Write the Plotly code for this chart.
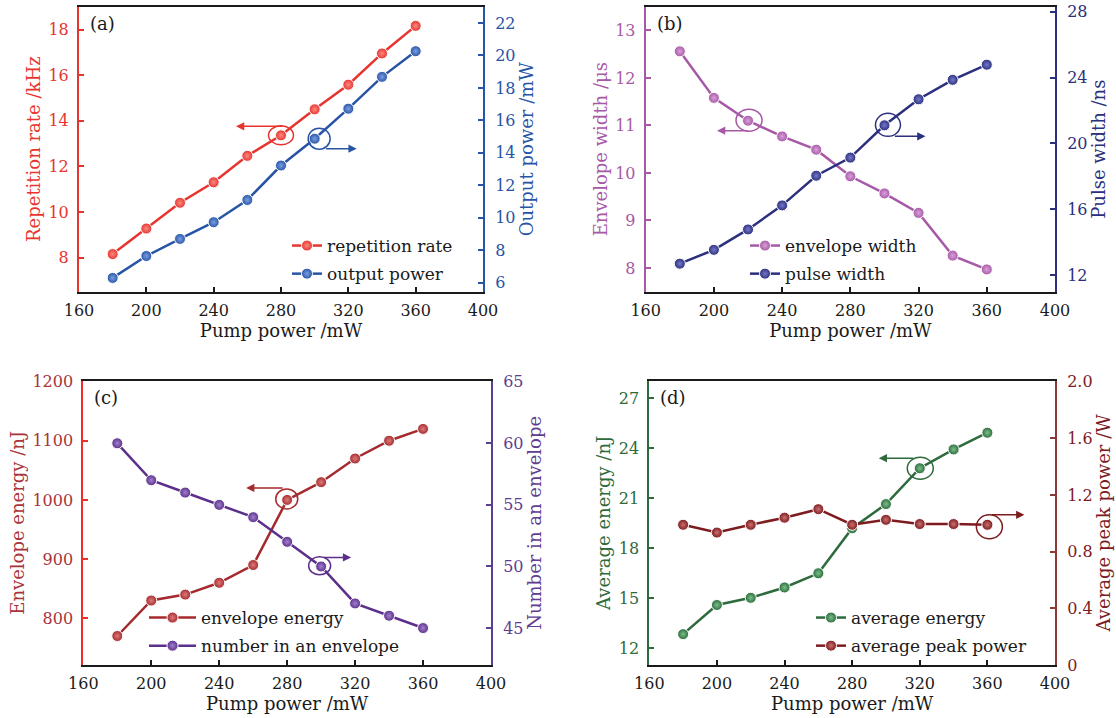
import plotly.graph_objects as go

# ---------------- data ----------------
pump = [180, 200, 220, 240, 260, 280, 300, 320, 340, 360]
x_ticks = [160, 200, 240, 280, 320, 360, 400]

rep_rate = [8.15, 9.27, 10.4, 11.3, 12.46, 13.36, 14.5, 15.58, 16.95, 18.16]
out_power = [6.3, 7.65, 8.7, 9.73, 11.1, 13.22, 14.87, 16.72, 18.68, 20.26]

env_width = [12.56, 11.58, 11.10, 10.77, 10.49, 9.93, 9.57, 9.16, 8.26, 7.97]
pulse_width = [12.70, 13.54, 14.78, 16.24, 18.04, 19.14, 21.1, 22.68, 23.86, 24.78]

env_energy = [770, 830, 840, 860, 890, 1000, 1030, 1070, 1100, 1120]
number_env = [60, 57, 56, 55, 54, 52, 50, 47, 46, 45]

avg_energy = [12.85, 14.6, 15.03, 15.65, 16.5, 19.2, 20.65, 22.8, 23.93, 24.93]
avg_peak = [0.99, 0.935, 0.99, 1.04, 1.10, 0.99, 1.025, 0.995, 0.995, 0.99]

# tick labels
a_left_ticks = [8, 10, 12, 14, 16, 18]
a_right_ticks = [6, 8, 10, 12, 14, 16, 18, 20, 22]
b_left_ticks = [8, 9, 10, 11, 12, 13]
b_right_ticks = [12, 16, 20, 24, 28]
c_left_ticks = [800, 900, 1000, 1100, 1200]
c_right_ticks = [45, 50, 55, 60, 65]
d_left_ticks = [12, 15, 18, 21, 24, 27]
d_right_ticks = [0, 0.4, 0.8, 1.2, 1.6, 2.0]
d_right_text = ["0", "0.4", "0.8", "1.2", "1.6", "2.0"]

FONT = "DejaVu Serif"
W, H = 1116, 718

fig = go.Figure()

def px_dom(x0, x1):
    return [x0 / W, x1 / W]

def py_dom(top, bottom):
    return [1 - bottom / H, 1 - top / H]

panels = [
    dict(
        label="(a)", xdom=px_dom(79, 483), ydom=py_dom(6.7, 291.7),
        left=dict(name="repetition rate", y=rep_rate, color="#e8342f", light="#f88a80",
                  axcolor="#e8342f", tick="#e8342f", title="Repetition rate /kHz",
                  range=[6.5, 19.0], tickvals=a_left_ticks, ticktext=None),
        right=dict(name="output power", y=out_power, color="#2854a6", light="#7a9ee0",
                   axcolor="#2854a6", tick="#2854a6", title="Output power /mW",
                   range=[5.45, 23.0], tickvals=a_right_ticks, ticktext=None),
        legend=dict(x=287, y=228, itemwidth=30),
        circ_l=dict(i=5, dx=0, dy=0, w=25, h=19),
        circ_r=dict(i=6, dx=4.5, dy=0, w=22, h=21),
        arr_l=dict(xs=-45, ys=9, ax=48),
        arr_r=dict(xs=42, ys=-10, ax=-32),
    ),
    dict(
        label="(b)", xdom=px_dom(645.7, 1055), ydom=py_dom(6.7, 291.7),
        left=dict(name="envelope width", y=env_width, color="#a659a6", light="#d8a0d8",
                  axcolor="#a659a6", tick="#a659a6", title="Envelope width /μs",
                  range=[7.5, 13.5], tickvals=b_left_ticks, ticktext=None),
        right=dict(name="pulse width", y=pulse_width, color="#2b2f7d", light="#7478c8",
                   axcolor="#2b2f7d", tick="#2b2f7d", title="Pulse width /ns",
                   range=[11, 28.3], tickvals=b_right_ticks, ticktext=None),
        legend=dict(x=745, y=228, itemwidth=30),
        circ_l=dict(i=2, dx=1, dy=-0.5, w=26, h=22),
        circ_r=dict(i=6, dx=3.5, dy=-0.5, w=25, h=23),
        arr_l=dict(xs=-31, ys=-10, ax=32),
        arr_r=dict(xs=41, ys=-11, ax=-32),
    ),
    dict(
        label="(c)", xdom=px_dom(83.3, 491), ydom=py_dom(380.7, 665),
        left=dict(name="envelope energy", y=env_energy, color="#a52a2e", light="#dc7a7a",
                  axcolor="#ee2c2c", tick="#a8333a", title="Envelope energy /nJ",
                  range=[721, 1201.5], tickvals=c_left_ticks, ticktext=None),
        right=dict(name="number in an envelope", y=number_env, color="#5b2f8a", light="#a080cc",
                   axcolor="#5b3f8f", tick="#5f3d91", title="Number in an envelope",
                   range=[42.0, 65.08], tickvals=c_right_ticks, ticktext=None),
        legend=dict(x=144, y=600, itemwidth=47),
        circ_l=dict(i=5, dx=-0.4, dy=-1, w=22, h=20),
        circ_r=dict(i=6, dx=-1.5, dy=-0.7, w=22, h=18),
        arr_l=dict(xs=-41, ys=12, ax=38),
        arr_r=dict(xs=30, ys=9, ax=-29),
    ),
    dict(
        label="(d)", xdom=px_dom(649.3, 1055), ydom=py_dom(380.7, 665),
        left=dict(name="average energy", y=avg_energy, color="#2d6a3c", light="#78c08a",
                  axcolor="#2d6a3c", tick="#2d6a3c", title="Average energy /nJ",
                  range=[11.0, 28.05], tickvals=d_left_ticks, ticktext=None),
        right=dict(name="average peak power", y=avg_peak, color="#7d1b1f", light="#c87070",
                   axcolor="#8b3a3a", tick="#7d1b1f", title="Average peak power /W",
                   range=[0, 2.007], tickvals=d_right_ticks, ticktext=d_right_text),
        legend=dict(x=811, y=600, itemwidth=30),
        circ_l=dict(i=7, dx=0.5, dy=0, w=26, h=22),
        circ_r=dict(i=9, dx=2, dy=2, w=26, h=24),
        arr_l=dict(xs=-41, ys=10, ax=36),
        arr_r=dict(xs=37, ys=10, ax=-34),
    ),
]

layout = dict(
    template="none",
    width=W, height=H,
    margin=dict(l=0, r=0, t=0, b=0, pad=0, autoexpand=False),
    paper_bgcolor="white", plot_bgcolor="white",
    font=dict(family=FONT, size=16, color="#1a1a1a"),
)
shapes = []
annotations = []

for k, p in enumerate(panels):
    n = k + 1
    xname = "x" if n == 1 else f"x{n}"
    yl_n = 2 * k + 1
    yr_n = 2 * k + 2
    yl = "y" if yl_n == 1 else f"y{yl_n}"
    yr = f"y{yr_n}"
    leg = "legend" if n == 1 else f"legend{n}"

    for side, yref in (("left", yl), ("right", yr)):
        s = p[side]
        fig.add_trace(go.Scatter(
            x=pump, y=s["y"], name=s["name"], mode="lines+markers",
            xaxis=xname, yaxis=yref, legend=leg,
            legendgroup=f"{n}{side}",
            line=dict(color=s["color"], width=2.5),
            marker=dict(size=11, color=s["color"],
                        gradient=dict(type="radial", color=s["light"]),
                        line=dict(color="white", width=1)),
            showlegend=True,
        ))

    xkey = "xaxis" if n == 1 else f"xaxis{n}"
    layout[xkey] = dict(
        domain=p["xdom"], anchor=yl, range=[160, 400], automargin=False,
        tickvals=x_ticks, ticks="inside", ticklen=5, tickwidth=1.5, tickcolor="#1a1a1a",
        showline=True, linecolor="#1a1a1a", linewidth=2, mirror=True,
        showgrid=False, zeroline=False, ticklabeloverflow="allow",
        tickfont=dict(family=FONT, size=16, color="#1a1a1a"),
        title=dict(text="Pump power /mW", font=dict(family=FONT, size=18, color="#1a1a1a"), standoff=4),
        ticklabelstandoff=3,
    )
    for side, ynum in (("left", yl_n), ("right", yr_n)):
        s = p[side]
        ykey = "yaxis" if ynum == 1 else f"yaxis{ynum}"
        ax = dict(
            domain=p["ydom"], anchor=xname, range=s["range"], automargin=False,
            tickvals=s["tickvals"], ticks="inside", ticklen=5, tickwidth=1.5,
            tickcolor=s["axcolor"], showline=True, linecolor=s["axcolor"], linewidth=2,
            showgrid=False, zeroline=False, ticklabeloverflow="allow",
            tickfont=dict(family=FONT, size=16, color=s["tick"]),
            title=dict(text=s["title"], font=dict(family=FONT, size=18, color=s["tick"]), standoff=3),
            ticklabelstandoff=5 if side == "left" else 7,
        )
        if s["ticktext"] is not None:
            ax["ticktext"] = s["ticktext"]
        if side == "right":
            ax.update(side="right", overlaying=yl)
        layout[ykey] = ax

    lg = p["legend"]
    layout[leg] = dict(
        x=lg["x"] / W, y=1 - lg["y"] / H, xanchor="left", yanchor="top",
        bgcolor="rgba(0,0,0,0)", borderwidth=0, tracegroupgap=3,
        itemwidth=lg["itemwidth"],
        font=dict(family=FONT, size=17, color="#1a1a1a"),
    )

    annotations.append(dict(
        text=p["label"], xref=f"{xname} domain", yref=f"{yl} domain",
        x=0.022, y=0.94, xanchor="left", yanchor="middle", showarrow=False,
        font=dict(family=FONT, size=18, color="#1a1a1a"),
    ))

    for side, yref, ckey, akey in (("left", yl, "circ_l", "arr_l"), ("right", yr, "circ_r", "arr_r")):
        s = p[side]
        c = p[ckey]
        xv = pump[c["i"]]
        yv = s["y"][c["i"]]
        shapes.append(dict(
            type="circle", xref=xname, yref=yref, xsizemode="pixel", ysizemode="pixel",
            xanchor=xv, yanchor=yv,
            x0=c["dx"] - c["w"] / 2, x1=c["dx"] + c["w"] / 2,
            y0=-c["dy"] - c["h"] / 2, y1=-c["dy"] + c["h"] / 2,
            line=dict(color=s["color"], width=1.5), fillcolor="rgba(0,0,0,0)",
        ))
        a = p[akey]
        annotations.append(dict(
            x=xv, y=yv, xref=xname, yref=yref, text="", showarrow=True,
            ax=a["ax"], ay=0, xshift=a["xs"], yshift=a["ys"],
            arrowhead=2, arrowsize=1.1, arrowwidth=1.5, arrowcolor=s["color"],
        ))

layout["shapes"] = shapes
layout["annotations"] = annotations
fig.update_layout(**layout)

fig.write_html("out.html")
